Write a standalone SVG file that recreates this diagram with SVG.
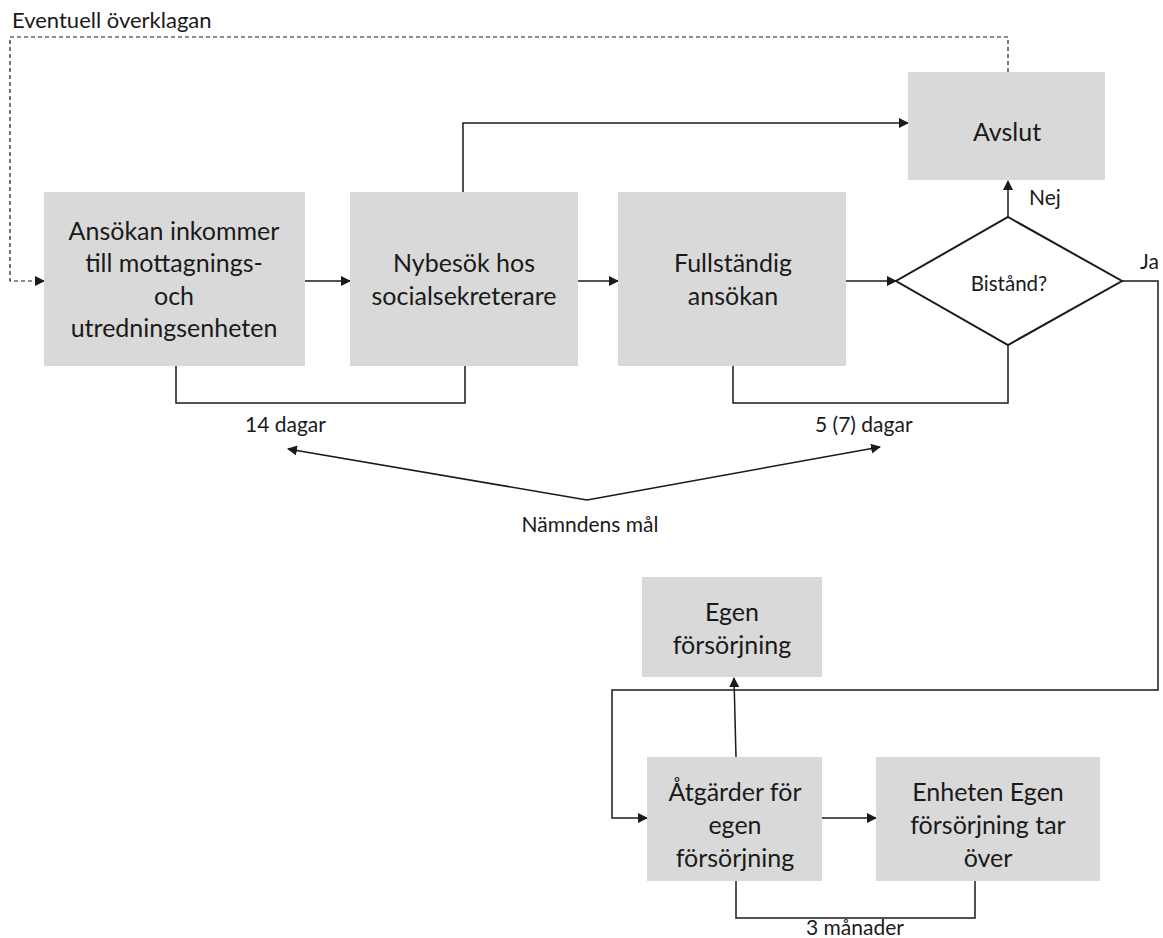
<svg xmlns="http://www.w3.org/2000/svg" width="1163" height="938" viewBox="0 0 1163 938">
<style>
.box{fill:#d9d9d9;}
.t{font-family:Lato,"Liberation Sans",sans-serif;font-size:25px;fill:#1a1a1a;text-anchor:middle;}
.l{font-family:Lato,"Liberation Sans",sans-serif;font-size:21px;fill:#1a1a1a;}
.c{fill:none;stroke:#1a1a1a;stroke-width:1.5;}
.d{fill:none;stroke:#1a1a1a;stroke-width:1.2;stroke-dasharray:4 3;}
</style>
<defs>
<marker id="a" markerWidth="10" markerHeight="10" refX="9" refY="5" orient="auto" markerUnits="userSpaceOnUse"><path d="M0,0 L10,5 L0,10 Z" fill="#1a1a1a"/></marker>
</defs>
<rect width="1163" height="938" fill="#fff"/>
<g id="connectors">
<path class="d" d="M1008,72 V37 H10 V281 H44" marker-end="url(#a)"/>
<path class="c" d="M463,192 V123 H908" marker-end="url(#a)"/>
<path class="c" d="M305,281 H350" marker-end="url(#a)"/>
<path class="c" d="M578,281 H618" marker-end="url(#a)"/>
<path class="c" d="M846,281 H896" marker-end="url(#a)"/>
<path class="c" d="M1008,217 V181" marker-end="url(#a)"/>
<path class="c" d="M1122,281 H1158 V690 H612 V818 H647" marker-end="url(#a)"/>
<path class="c" d="M176,366 V403 H465 V366"/>
<path class="c" d="M733,366 V403 H1008 V345"/>
<path class="c" d="M587,500 L288,449" marker-end="url(#a)"/>
<path class="c" d="M587,500 L880,447" marker-end="url(#a)"/>
<path class="c" d="M736,757 L734,678" marker-end="url(#a)"/>
<path class="c" d="M822,818 H876" marker-end="url(#a)"/>
<path class="c" d="M736,881 V918 H975 V881"/>
</g>
<text class="l" x="12" y="28" style="font-size:22px">Eventuell överklagan</text>
<g id="n1"><rect class="box" x="44" y="192" width="261" height="174"/>
<text class="t" x="174" y="240">Ansökan inkommer</text><text class="t" x="174" y="272">till mottagnings-</text><text class="t" x="174" y="305">och</text><text class="t" x="174" y="337">utredningsenheten</text></g>
<g id="n2"><rect class="box" x="350" y="192" width="228" height="174"/>
<text class="t" x="464" y="272">Nybesök hos</text><text class="t" x="464" y="305">socialsekreterare</text></g>
<g id="n3"><rect class="box" x="618" y="192" width="228" height="174"/>
<text class="t" x="733" y="272">Fullständig</text><text class="t" x="733" y="305">ansökan</text></g>
<g id="avslut"><rect class="box" x="908" y="72" width="197" height="108"/>
<text class="t" x="1007" y="141">Avslut</text></g>
<g id="bistand"><polygon points="1008,217 1122,281 1008,345 896,281" fill="#fff" stroke="#1a1a1a" stroke-width="2"/>
<text class="t" x="1009" y="291" style="font-size:20.5px">Bistånd?</text></g>
<text class="l" x="1029" y="205">Nej</text>
<text class="l" x="1140" y="269">Ja</text>
<text class="l" x="245" y="432">14 dagar</text>
<text class="l" x="815" y="432">5 (7) dagar</text>
<text class="l" x="590" y="532" text-anchor="middle">Nämndens mål</text>
<g id="egen"><rect class="box" x="642" y="577" width="180" height="100"/>
<text class="t" x="732" y="621">Egen</text><text class="t" x="732" y="654">försörjning</text></g>
<g id="atgarder"><rect class="box" x="647" y="757" width="175" height="124"/>
<text class="t" x="735" y="801">Åtgärder för</text><text class="t" x="735" y="834">egen</text><text class="t" x="735" y="867">försörjning</text></g>
<g id="enheten"><rect class="box" x="876" y="757" width="224" height="124"/>
<text class="t" x="988" y="801">Enheten Egen</text><text class="t" x="988" y="834">försörjning tar</text><text class="t" x="988" y="867">över</text></g>
<text class="l" x="855" y="935" text-anchor="middle">3 månader</text>
</svg>
